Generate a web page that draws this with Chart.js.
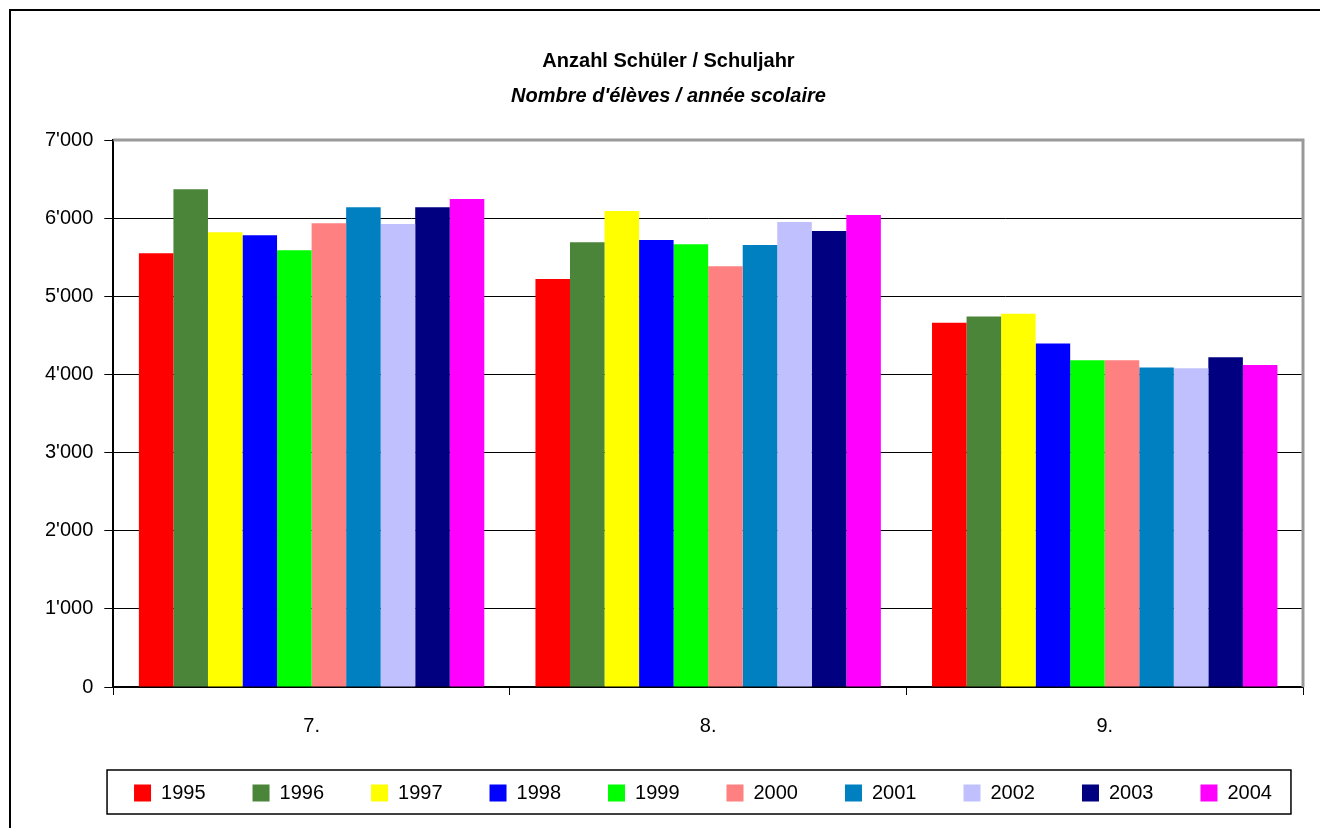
<!DOCTYPE html>
<html>
<head>
<meta charset="utf-8">
<script src="https://cdn.jsdelivr.net/npm/chart.js@4/dist/chart.umd.min.js"></script>
<style>
  html, body { margin: 0; padding: 0; background: #fff; }
  #wrap { width: 1324px; height: 828px; position: relative; }
</style>
</head>
<body>
<div id="wrap"><canvas id="chart" width="1324" height="828"></canvas></div>
<script>
// grades (Klasse) on the x axis
const grades = ['7.', '8.', '9.'];
const years = ['1995', '1996', '1997', '1998', '1999', '2000', '2001', '2002', '2003', '2004'];

// pupils per grade, one array per school year
const y1995 = [5550, 5220, 4660];
const y1996 = [6370, 5690, 4740];
const y1997 = [5820, 6090, 4775];
const y1998 = [5780, 5720, 4395];
const y1999 = [5590, 5665, 4180];
const y2000 = [5935, 5385, 4180];
const y2001 = [6140, 5655, 4090];
const y2002 = [5925, 5950, 4080];
const y2003 = [6140, 5835, 4220];
const y2004 = [6245, 6040, 4120];

const yTickLabels = ['0', "1'000", "2'000", "3'000", "4'000", "5'000", "6'000", "7'000"];

const colors = ['#FF0000', '#4A8539', '#FFFF00', '#0000FF', '#00FF00',
                '#FF8080', '#0080C0', '#C0C0FF', '#000080', '#FF00FF'];
const series = [y1995, y1996, y1997, y1998, y1999, y2000, y2001, y2002, y2003, y2004];

Chart.defaults.font.family = "'Liberation Sans', Arial, sans-serif";
Chart.defaults.font.size = 20;
Chart.defaults.color = '#000';

let datasets = [];
for (let i = 0; i < years.length; i++) {
    datasets.push({
        label: years[i],
        data: series[i],
        backgroundColor: colors[i],
        borderWidth: 0
    });
}

// page frame, plot border on top/right, box round the legend
const framePlugin = {
    id: 'frames',
    afterLayout(chart) {
        const lg = chart.legend;
        const d = 703 - (lg.left + lg.right) / 2;
        lg.left += d;
        lg.right += d;
        lg.top = 736;
        lg.height = 80;
        lg.bottom = lg.top + lg.height;
    },
    beforeDraw(chart) {
        const ctx = chart.ctx;
        ctx.save();
        ctx.fillStyle = '#fff';
        ctx.fillRect(0, 0, chart.width, chart.height);
        ctx.strokeStyle = '#000';
        ctx.lineWidth = 2;
        ctx.beginPath();
        ctx.moveTo(10, 828);
        ctx.lineTo(10, 10);
        ctx.lineTo(1320, 10);
        ctx.stroke();
        ctx.restore();
    },
    beforeDatasetsDraw(chart) {
        const a = chart.chartArea;
        const ctx = chart.ctx;
        ctx.save();
        ctx.strokeStyle = '#999';
        ctx.lineWidth = 3;
        ctx.beginPath();
        ctx.moveTo(a.left, a.top);
        ctx.lineTo(a.right, a.top);
        ctx.lineTo(a.right, a.bottom);
        ctx.stroke();
        ctx.restore();
    },
    afterDraw(chart) {
        const hb = chart.legend.legendHitBoxes;
        if (!hb || !hb.length) return;
        const first = hb[0], last = hb[hb.length - 1];
        const x0 = first.left - 27;
        const x1 = last.left + last.width + 19;
        const y0 = first.top - 13;
        const ctx = chart.ctx;
        ctx.save();
        ctx.strokeStyle = '#000';
        ctx.lineWidth = 1.5;
        ctx.strokeRect(x0, y0, x1 - x0, 44);
        ctx.restore();
    }
};

new Chart(document.getElementById('chart'), {
    type: 'bar',
    data: {
        labels: grades,
        datasets: datasets
    },
    options: {
        responsive: false,
        animation: false,
        layout: {
            padding: { top: 10, left: 34, right: 21, bottom: 15 }
        },
        datasets: {
            bar: {
                categoryPercentage: 0.871,
                barPercentage: 1.0
            }
        },
        plugins: {
            title: {
                display: true,
                text: 'Anzahl Schüler / Schuljahr',
                font: { size: 20, weight: 'bold' },
                padding: { top: 39, bottom: 0 }
            },
            subtitle: {
                display: true,
                text: "Nombre d'élèves / année scolaire",
                color: '#000',
                font: { size: 20, weight: 'bold', style: 'italic' },
                padding: { top: 11, bottom: 32 }
            },
            legend: {
                position: 'bottom',
                maxHeight: 56,
                labels: {
                    boxWidth: 17,
                    boxHeight: 17,
                    padding: 47,
                    font: { size: 20 }
                }
            },
            tooltip: { enabled: false }
        },
        scales: {
            x: {
                grid: {
                    drawOnChartArea: false,
                    color: '#000',
                    tickLength: 8
                },
                border: { color: '#000', width: 1.5 },
                ticks: { padding: 19 }
            },
            y: {
                min: 0,
                max: 7000,
                grid: {
                    color: '#000',
                    lineWidth: 1,
                    tickLength: 9,
                    tickColor: '#000',
                    tickWidth: 1
                },
                border: { color: '#000', width: 2 },
                ticks: {
                    stepSize: 1000,
                    padding: 11,
                    callback: (v, i) => yTickLabels[i]
                }
            }
        }
    },
    plugins: [framePlugin]
});
</script>
</body>
</html>
